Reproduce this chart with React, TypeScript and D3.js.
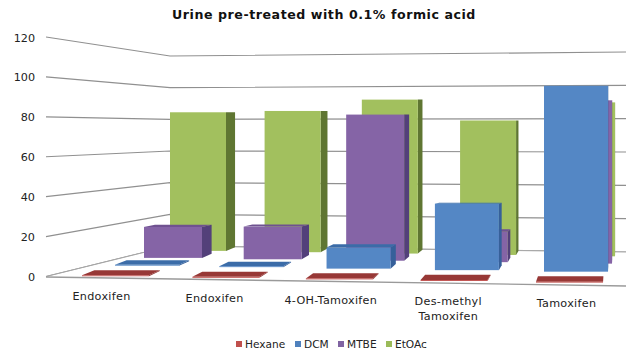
import React from "react";
import * as d3 from "d3";

const chartTitle = "Urine pre-treated with 0.1% formic acid";
const categories = [["Endoxifen"], ["Endoxifen"], ["4-OH-Tamoxifen"], ["Des-methyl", "Tamoxifen"], ["Tamoxifen"]];
const seriesNames = ["Hexane", "DCM", "MTBE", "EtOAc"];
const hexane = [0.5, 0.5, 0.5, 0.5, 0.5];
const dcm = [0.5, 0.5, 11.7, 37, 103.5];
const mtbe = [18, 19, 85, 17.7, 95];
const etoac = [84, 85.6, 93.3, 81.5, 93.3];
const seriesValues = [hexane, dcm, mtbe, etoac];
const yTicks = [0, 20, 40, 60, 80, 100, 120];

const faceColors = [
  { front: "#c0504d", side: "#8f3432", top: "#973836" },
  { front: "#5487c5", side: "#36609a", top: "#3b6ca8" },
  { front: "#8564a6", side: "#53407a", top: "#6f5290" },
  { front: "#a2c05e", side: "#5f7632", top: "#8aa64a" },
];
const legendMarks = ["#c0504d", "#4f81bd", "#8064a2", "#9bbb59"];
const legendX = [236, 295, 338, 386];
const font = "'DejaVu Sans', sans-serif";

// Wall and floor geometry of the 3-D plot box.
const leftWall = d3.scaleLinear().domain([0, 120]).range([276.5, 37]);
const backWall = d3.scaleLinear().domain([0, 120]).range([246, 56]);
const rightEnd = d3.scaleLinear().domain([0, 120]).range([252, 52]);
const wallCornerX = 170;
const plotRight = 626;

// Series sit at increasing depth on the floor; categories run along it.
const depth = d3.scalePow().exponent(0.8).domain([0, 3]).range([0, 1]);
const along = d3.scalePow().exponent(1.02).domain([0, 4]).range([0, 1]);
const depthStops = [-0.2, 0, depth(1), depth(2), 1];
const originX = d3.scaleLinear().domain(depthStops).range([67, 82, 115, 144, 170]);
const spanX = d3.scaleLinear().domain(depthStops).range([465, 454, 429, 410, 389]);
const barWidth = d3.scaleLinear().domain(depthStops).range([69, 67, 64, 58, 56]);
const baseAtZero = d3.scaleLinear().domain([0, 1]).range([275.1, 248.5]);
const floorSlope = 0.014;
const pxPerUnit = d3.scaleLinear().domain([0, 1]).range([1.9, 1.65]);

// Bars extrude towards a vanishing point on the right.
const extrudeX = (x: number) => 0.023 * (620 - x);
const extrudeY = (y: number) => -Math.max(0, y - 190) * 0.06;

const path = d3.line<[number, number]>();
const closed = (pts: [number, number][]) => path(pts) + "Z";

function Bar({ s, c, value }: { s: number; c: number; value: number }) {
  const t = depth(s);
  const xl = originX(t) + spanX(t) * along(c);
  const xr = xl + barWidth(t);
  const yb = baseAtZero(t) + floorSlope * xl;
  const yt = yb - value * pxPerUnit(t);
  const colors = faceColors[s];
  const dxL = extrudeX(xl);
  const dxR = extrudeX(xr);
  const dyT = extrudeY(yt);
  const dyB = extrudeY(yb);
  return (
    <g>
      <path
        d={closed([[xr, yt], [xr + dxR, yt + dyT], [xr + dxR, yb + dyB], [xr, yb]])}
        fill={colors.side}
      />
      <path
        d={closed([[xl, yt], [xr, yt], [xr + dxR, yt + dyT], [xl + dxL, yt + dyT]])}
        fill={colors.top}
      />
      <rect x={xl} y={yt} width={xr - xl} height={yb - yt} fill={colors.front} />
    </g>
  );
}

export default function App() {
  const labelDepth = -0.2;
  const labelCenter = (c: number) =>
    originX(labelDepth) + spanX(labelDepth) * along(c) + barWidth(labelDepth) / 2;
  const labelBaseline = (x: number) => 298.4 + 0.0155 * x;

  return (
    <svg
      width={626}
      height={351}
      viewBox="0 0 626 351"
      style={{ position: "absolute", left: 0, top: 0, background: "#fff" }}
    >
      <text
        x={324}
        y={19}
        textAnchor="middle"
        fontFamily={font}
        fontWeight="bold"
        fontSize={12.6}
        letterSpacing={0.55}
        fill="#111"
      >
        {chartTitle}
      </text>

      {yTicks.map((v) => (
        <g key={v}>
          <path
            d={path([[46, leftWall(v)], [wallCornerX, backWall(v)], [plotRight, rightEnd(v)]]) ?? ""}
            fill="none"
            stroke="#909090"
            strokeWidth={1.2}
          />
          <text x={35} y={leftWall(v) + 4.5} textAnchor="end" fontFamily={font} fontSize={11.2} fill="#222">
            {v}
          </text>
        </g>
      ))}
      <path d={closed([[46, 277], [wallCornerX, 246], [plotRight, 252], [plotRight, 286]])} fill="#fff" />
      <path d={path([[46, 276.5], [wallCornerX, 246], [plotRight, 252]]) ?? ""} fill="none" stroke="#a8a8a8" strokeWidth={1} />
      <path d={path([[46, 277], [plotRight, 286]]) ?? ""} fill="none" stroke="#9a9a9a" strokeWidth={1.3} />

      {d3.range(3, -1, -1).map((s) =>
        seriesValues[s].map((value, c) => <Bar key={`${s}-${c}`} s={s} c={c} value={value} />)
      )}

      {categories.map((lines, c) =>
        lines.map((line, i) => {
          const x = labelCenter(c);
          return (
            <text
              key={`${c}-${i}`}
              x={x}
              y={labelBaseline(x) + i * 15}
              textAnchor="middle"
              fontFamily={font}
              fontSize={11.2}
              letterSpacing={0.3}
              fill="#222"
            >
              {line}
            </text>
          );
        })
      )}

      {seriesNames.map((name, i) => (
        <g key={name}>
          <rect x={legendX[i]} y={341} width={6} height={6} fill={legendMarks[i]} />
          <text x={legendX[i] + 9} y={348} fontFamily={font} fontSize={10.6} fill="#222">
            {name}
          </text>
        </g>
      ))}
    </svg>
  );
}
